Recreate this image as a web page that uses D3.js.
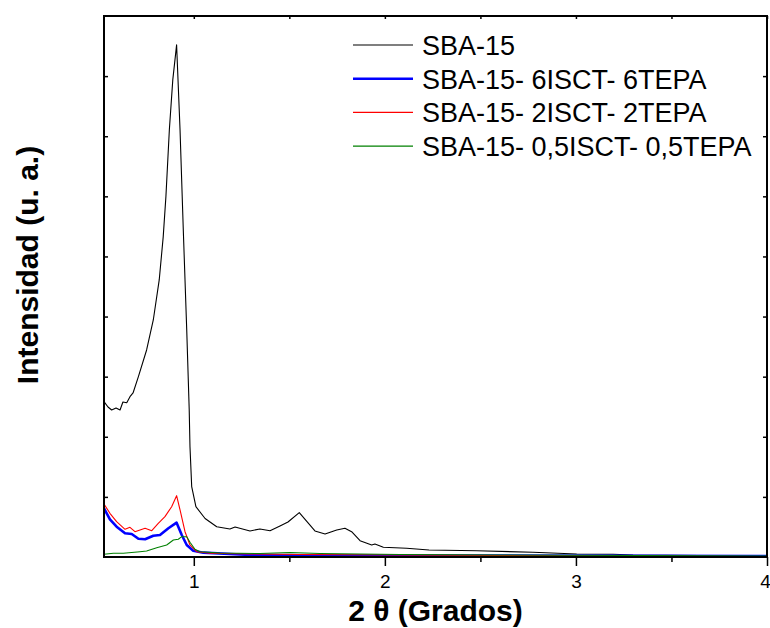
<!DOCTYPE html>
<html><head><meta charset="utf-8">
<script src="https://cdn.jsdelivr.net/npm/d3@7"></script>
<style>body{margin:0;background:#fff}svg{display:block}text{font-family:"Liberation Sans",Arial,sans-serif}</style>
</head><body><svg id="c" width="770" height="628"></svg>
<script>
// 2θ (degrees) and intensity (a.u.)
const sba15_x = [0.530,0.551,0.570,0.593,0.614,0.629,0.649,0.666,0.682,0.710,0.753,0.788,0.819,0.840,0.854,0.872,0.890,0.910,0.928,0.945,0.963,0.976,0.980,0.989,1.011,1.059,1.120,1.189,1.216,1.294,1.346,1.399,1.451,1.493,1.552,1.634,1.687,1.748,1.791,1.826,1.870,1.931,1.948,1.992,2.114,2.231,2.481,2.775,3.004,3.194,3.299,3.822,4.000];
const sba15_y = [2584,2496,2446,2479,2446,2579,2567,2667,2729,3000,3444,3943,4609,5330,5995,7105,7937,8519,7105,5441,3777,2446,1835,1170,837,641,504,466,499,433,466,438,516,582,737,433,383,449,478,421,271,200,216,161,145,116,105,78,50,45,33,22,17];
const s6_x = [0.530,0.561,0.596,0.640,0.675,0.710,0.745,0.788,0.823,0.867,0.910,0.937,0.963,0.997,1.050,1.294,2.079,4.000];
const s6_y = [810,627,504,394,383,304,295,354,366,478,571,366,200,105,72,33,25,17];
const s2_x = [0.530,0.561,0.596,0.640,0.666,0.692,0.745,0.780,0.814,0.849,0.884,0.910,0.928,0.954,0.980,1.015,1.085,1.294,1.556,2.079,2.603,3.126,4.000];
const s2_y = [882,727,587,461,494,421,478,438,561,671,837,1020,782,421,200,88,62,50,42,33,25,17,8];
const s05_x = [0.530,0.579,0.631,0.718,0.753,0.806,0.858,0.893,0.919,0.937,0.963,0.980,1.006,1.032,1.137,1.346,1.503,1.660,2.079,2.603,4.000];
const s05_y = [45,62,62,88,100,155,200,283,295,338,338,245,128,88,67,58,75,58,42,33,17];
const seriesNames = ["SBA-15","SBA-15- 6ISCT- 6TEPA","SBA-15- 2ISCT- 2TEPA","SBA-15- 0,5ISCT- 0,5TEPA"];
const xTicks = [1,2,3,4];
const xMinor = [1.5,2.5,3.5];
const yTicks = [1000,2000,3000,4000,5000,6000,7000,8000];

const colors = ["#000000","#0000ff","#ff0000","#008000"];
const widths = [1.1,2.6,1.1,1.1];
const series = [[sba15_x,sba15_y],[s6_x,s6_y],[s2_x,s2_y],[s05_x,s05_y]];

const svg = d3.select("#c");
const L=104,R=767,T=16,B=557;
const x = d3.scaleLinear().domain([0.53,4]).range([L,R]);
const y = d3.scaleLinear().domain([0,9000]).range([B,T]);

const line = d3.line().x(d=>x(d[0])).y(d=>y(d[1]));
series.forEach((s,i)=>{
  const pts = s[0].map((v,j)=>[v,s[1][j]]);
  svg.append("path").attr("d",line(pts)).attr("fill","none")
    .attr("stroke",colors[i]).attr("stroke-width",widths[i]).attr("stroke-linejoin","round");
});

// axes
const bottom = svg.append("g").attr("transform",`translate(0,${B})`)
  .call(d3.axisBottom(x).tickValues(xTicks).tickFormat(d3.format("d")).tickSize(9).tickSizeOuter(0));
bottom.selectAll("text").attr("font-size",19).attr("dy","0.71em").attr("y",18).attr("fill","#000")
  .attr("x",d=>d===4?-2:0);
svg.append("g").attr("transform",`translate(0,${B})`)
  .call(d3.axisBottom(x).tickValues(xMinor).tickFormat("").tickSize(5).tickSizeOuter(0));
svg.append("g").attr("transform",`translate(0,${T})`)
  .call(d3.axisBottom(x).tickValues(xTicks.concat(xMinor)).tickFormat("").tickSize(3).tickSizeOuter(0));
svg.append("g").attr("transform",`translate(${L},0)`)
  .call(d3.axisRight(y).tickValues(yTicks).tickFormat("").tickSize(4).tickSizeOuter(0));
svg.append("g").attr("transform",`translate(${R},0)`)
  .call(d3.axisLeft(y).tickValues(yTicks).tickFormat("").tickSize(4).tickSizeOuter(0));
svg.selectAll(".domain").remove();
svg.selectAll(".tick line").attr("stroke","#000").attr("stroke-width",1.5);
svg.append("rect").attr("x",L).attr("y",T).attr("width",R-L).attr("height",B-T)
  .attr("fill","none").attr("stroke","#000").attr("stroke-width",2);

// axis titles
svg.append("text").attr("x",(L+R)/2).attr("y",621).attr("text-anchor","middle")
  .attr("font-size",30).attr("font-weight","bold")
  .text("2 θ (Grados)");
svg.append("text").attr("transform",`translate(38,265) rotate(-90)`).attr("text-anchor","middle")
  .attr("font-size",30).attr("font-weight","bold").text("Intensidad (u. a.)");

// legend
const lg = svg.append("g");
seriesNames.forEach((n,i)=>{
  const yy = 45 + i*33.7;
  lg.append("line").attr("x1",353).attr("x2",413).attr("y1",yy).attr("y2",yy)
    .attr("stroke",colors[i]).attr("stroke-width",widths[i]);
  lg.append("text").attr("x",422).attr("y",yy+10).attr("font-size",27).text(n);
});
</script></body></html>
